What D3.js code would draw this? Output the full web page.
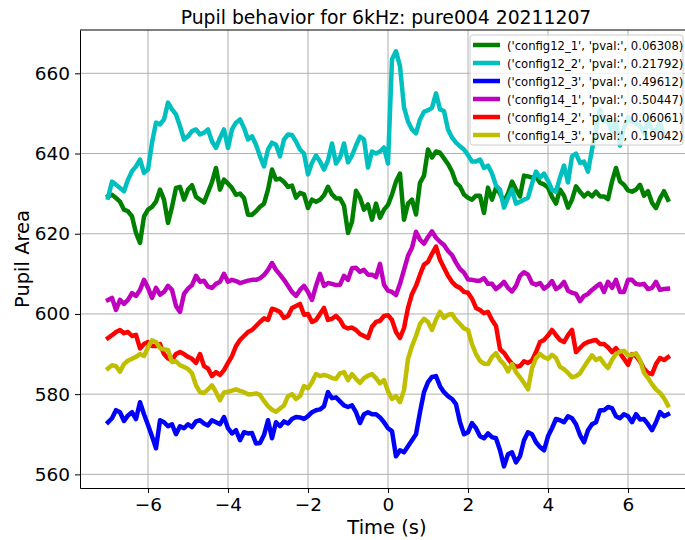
<!DOCTYPE html>
<html>
<head>
<meta charset="utf-8">
<script src="https://cdn.jsdelivr.net/npm/d3@7"></script>
<style>
  body { margin: 0; background: #fff; }
  text { font-family: "DejaVu Sans", sans-serif; }
</style>
</head>
<body>
<div class="container"></div>
<script>
// time axis, one sample every 0.1 s from -7 to 7
var time = d3.range(-70, 71).map(d => d / 10);

// series values
var config12_1 = [629.3, 629.7, 628.9, 628, 626, 625.6, 624.3, 620.2, 617.7, 624.3, 626, 626.7, 628, 631, 628.5, 622.7, 626.7, 631.4, 631.7, 628.5, 631, 632.1, 629.2, 628.5, 627.8, 630.3, 632.9, 636.4, 631, 633.5, 632.5, 631.4, 629.7, 630, 628.9, 624.75, 624.75, 625.6, 626.7, 627.5, 631, 636, 633.5, 633.75, 632.9, 631.7,
  632, 629, 630.2, 629.8, 626.4, 628.5, 628, 628.5, 629.6, 631.7, 629.8, 628.8, 628.8, 627, 620.2, 623, 630.7, 629, 626, 627.3, 623.5, 627.5, 624, 626, 627.2, 629.8, 633, 635, 623.5, 627.5, 628.5, 624.8, 632.7, 634.5, 641, 639, 640.5, 640.2, 638.8, 637.4, 635.5, 632.7, 631.8, 629.8, 629, 628.5, 629.5, 629.5, 625.2,
  631.5, 628.5, 631.5, 630, 628, 630, 633, 631, 629.3, 634.5, 634.3, 634, 634.2, 632.7, 632.3, 631.5, 629.2, 627.5, 631, 629.5, 626.5, 628.5, 631.8, 630.5, 629.3, 630.2, 629.3, 630.5, 629.3, 629.3, 628.6, 633, 636.4, 633, 632.2, 630.8, 630.5, 631, 632.2, 629.5, 630.6, 627.7, 626.4, 628.8, 630.6, 628.5];
var config12_2 = [629, 633, 632.25, 631.4, 630.6, 633.5, 635.6, 636.8, 638.5, 635.2, 636, 642.7, 647.7, 647.25, 648.5, 652.7, 651, 649.75, 646.8, 643.5, 644.3, 645.6, 646, 644.75, 645.2, 646, 643, 641.4, 643.9, 646, 641.4, 646, 647.7, 648.5, 646.4, 643.5, 644.3, 642.2, 639.3, 636.8, 641, 642.7, 642.2, 639.3, 643.5, 644.75,
  644.6, 643, 641, 640, 634.8, 637.7, 639.5, 638, 636, 638.3, 642.5, 637.5, 639, 642.5, 637.8, 639.5, 642, 644.2, 643.5, 636.5, 640.5, 640, 640.5, 641.5, 637.5, 663.5, 665.5, 661.8, 651.5, 648, 646, 645, 648.5, 650.4, 650.8, 651.4, 655, 651, 650.6, 646, 644, 642.7, 641.8, 641, 639.6, 638, 638, 638.5, 636.4,
  637, 635, 632, 631, 626.5, 629, 631, 627.5, 628, 628.5, 629, 632.5, 635.5, 634, 635, 633.2, 631, 630.5, 634, 637, 632.8, 639.3, 640, 637.7, 638, 635.5, 641, 646, 651, 648, 648.5, 645, 648.5, 642, 646.5, 649, 648, 647.5, 647, 645, 648, 646, 645.5, 648, 644, 644];
var config12_3 = [573, 574, 576, 575.5, 573.3, 574.7, 575.5, 573.8, 578, 575, 572.3, 569.5, 566.5, 573.5, 573, 572, 572.5, 570, 572, 571.5, 572.5, 571.8, 573.2, 573.5, 572.7, 572.2, 573.5, 573, 572.5, 574.3, 571.5, 570.2, 571, 568.5, 570.5, 570.2, 570.3, 567.7, 567.8, 569.8, 573.5, 569, 573, 572, 573.2, 572.7, 573.8,
  574.3, 574.2, 573.8, 574.5, 575.5, 576, 576.2, 577, 580.5, 579, 579.2, 578.2, 577.2, 576.8, 577.2, 575.5, 572.8, 575, 575.5, 575, 575, 574.2, 573, 571.5, 570.8, 564.5, 566, 565.5, 567, 568.5, 570, 575.5, 580.5, 583, 584.3, 584.5, 582, 580.5, 579.5, 578.8, 577.5, 573, 570, 570.5, 572.8, 571.5, 569.5, 569,
  570.2, 569.3, 569, 566, 562, 565, 565.5, 563, 564.5, 568.5, 570.5, 570, 568, 566.8, 566, 569.5, 571.5, 573.8, 573.5, 573, 574.5, 574, 572.5, 569.8, 568, 571, 572.5, 573, 576, 576, 576.8, 576.5, 574.5, 574, 575, 574.5, 573, 575, 573.7, 573.8, 572.5, 571, 573, 575.5, 574.5, 575];
var config14_1 = [603.5, 604, 601, 603.5, 602.5, 603.5, 605.2, 604.5, 606, 608.5, 606.5, 604, 606.5, 604.8, 605.5, 607, 606, 602, 600.5, 605, 606.3, 607.2, 609.5, 608, 608.3, 606.8, 606.5, 607.5, 608, 610, 608, 608.5, 608.2, 607.7, 608, 608.3, 608.5, 608.5, 608.9, 609.7, 611, 612.7, 611, 609.8, 608.5, 607, 605.5,
  604.5, 606, 607, 605.5, 603.5, 607, 610, 607, 607.7, 607.5, 607.2, 607.3, 609.5, 608.5, 611.4, 611.5, 610.5, 611, 609.8, 609.8, 609.2, 612.5, 607.3, 605.8, 605.5, 604.7, 607.5, 611, 614.5, 616.5, 620.5, 618.5, 617.5, 619.2, 620.6, 619, 618, 617.2, 615.7, 614.7, 612.8, 611.2, 610.3, 608.6, 608.5, 608.3, 608.3, 608.9,
  607.5, 607.5, 606.2, 607, 608, 606.5, 605.6, 607, 609.5, 610.4, 609.8, 607.7, 607.3, 607.7, 606.3, 607, 608.2, 606.2, 606.8, 608, 605.8, 605.3, 605, 603.2, 604.5, 605, 606, 606.8, 607.5, 605.5, 608, 606.5, 608.5, 605.5, 605.5, 608.5, 608.5, 607.5, 607.3, 607.5, 606.2, 606.5, 608, 606, 606.2, 606.3];
var config14_2 = [594, 594.7, 595.5, 596, 595.2, 595.5, 594.5, 594.8, 591.4, 592.5, 593, 592, 592, 592.5, 590, 588.9, 588.5, 590, 590.5, 590, 589.3, 588.8, 587.8, 590, 587, 586.4, 584.5, 585.5, 584.8, 586, 587.8, 589.5, 592, 593.5, 594.5, 595.5, 596, 597, 598, 598.9, 598.5, 601.3, 601, 600.5, 599, 599.5, 601.5,
  602, 602.5, 599.8, 600, 598, 598.5, 600, 601.5, 598.5, 598.8, 599.5, 598.5, 596.8, 596.4, 596.6, 596, 595, 594.5, 594, 596.8, 598, 598.3, 599.5, 599.7, 598.5, 595.5, 594, 596.5, 601.5, 605, 607, 609.8, 612.3, 613, 615, 616.8, 613.5, 611.5, 609.5, 608, 607, 606.5, 605.5, 605.3, 603.8, 601.5, 601, 600.2,
  600.5, 598.5, 597, 591.2, 590.3, 588.8, 587.6, 586.8, 587, 588.2, 587.8, 588.4, 590.5, 593, 593.5, 594.6, 596, 594.7, 593.5, 593, 594.7, 596, 590.5, 591.5, 592.5, 593, 593.3, 593.5, 592.5, 592.5, 591.7, 590.5, 591.5, 590.2, 588.8, 587.3, 590, 589.5, 588.2, 586.3, 585.3, 585, 587.5, 589, 588.5, 589.2];
var config14_3 = [586.4, 587.2, 587, 585.6, 587.5, 588.4, 588.8, 589.3, 590, 589.5, 591.7, 593.4, 593, 591.5, 591.2, 591, 588, 588.2, 587.2, 586.8, 586.3, 585.2, 582.2, 580.5, 580.3, 581.2, 582.2, 580.5, 578.5, 580.4, 580.6, 580.9, 581.2, 580.8, 580.5, 580, 580, 580.2, 579.8, 578.3, 577, 576.1, 575.6, 576.4, 577.2, 579.5, 580,
  578.8, 579.5, 582, 581.5, 583, 585, 584.5, 584.8, 584.5, 584, 583.8, 585.2, 585.5, 583.5, 585, 583.8, 582.8, 584, 584.6, 585, 584, 582.7, 583.5, 580.7, 578.8, 579.5, 578, 581, 588.8, 592, 594.5, 597.5, 598.8, 598, 596, 598.6, 600.5, 599, 599.8, 600, 598.5, 597.5, 596.4, 596, 592.5, 590, 588.3, 587.6,
  587.5, 589.3, 590.2, 588.5, 587.5, 585.7, 587.5, 585.5, 584.2, 582.8, 581.2, 586.5, 589, 590, 589.2, 588.8, 589.8, 589, 586.8, 586.2, 585.3, 584.2, 584.5, 585.2, 586.8, 588.3, 589.7, 588.5, 589, 587.6, 586.5, 588.5, 590, 590.6, 590.8, 589.7, 589.8, 590.2, 588.5, 585.3, 584, 582.5, 581.2, 580.3, 579, 577.2];

var seriesNames = ["config12_1", "config12_2", "config12_3", "config14_1", "config14_2", "config14_3"];
var pvals = ["0.06308", "0.21792", "0.49612", "0.50447", "0.06061", "0.19042"];
var seriesValues = [config12_1, config12_2, config12_3, config14_1, config14_2, config14_3];
var colors = ["#008000", "#00bfbf", "#0000ff", "#bf00bf", "#ff0000", "#bfbf00"];
var xTicks = [-6, -4, -2, 0, 2, 4, 6];
var yTicks = [560, 580, 600, 620, 640, 660];

//svg area
var svgWidth = 685;
var svgHeight = 540;

var margin = { top: 30, left: 80 };
var chartWidth = 616;
var chartHeight = 458;

var svg = d3.select('.container').append('svg')
    .attr('width', svgWidth)
    .attr('height', svgHeight);

var chartGroup = svg.append('g').attr('transform', `translate(${margin.left},${margin.top})`);

// scales
var xScale = d3.scaleLinear().domain([-7.7, 7.7]).range([0, chartWidth]);
var yScale = d3.scaleLinear().domain([556.6, 670.8]).range([chartHeight, 0]);

// grid lines
chartGroup.append('g').selectAll('line')
    .data(xTicks).enter().append('line')
    .attr('x1', d => xScale(d)).attr('x2', d => xScale(d))
    .attr('y1', 0).attr('y2', chartHeight)
    .attr('stroke', '#b0b0b0').attr('stroke-width', 1);
chartGroup.append('g').selectAll('line')
    .data(yTicks).enter().append('line')
    .attr('x1', 0).attr('x2', chartWidth)
    .attr('y1', d => yScale(d)).attr('y2', d => yScale(d))
    .attr('stroke', '#b0b0b0').attr('stroke-width', 1);

// lines
var line = d3.line()
    .x((d, i) => xScale(time[i]))
    .y(d => yScale(d));

chartGroup.append('g').selectAll('path')
    .data(seriesValues).enter().append('path')
    .attr('d', d => line(d))
    .attr('fill', 'none')
    .attr('stroke', (d, i) => colors[i])
    .attr('stroke-width', 4.5)
    .attr('stroke-linejoin', 'round')
    .attr('stroke-linecap', 'square');

// axes
var fmt = d => d < 0 ? "\u2212" + Math.abs(d) : d;
var bottomAxis = d3.axisBottom(xScale).tickValues(xTicks).tickFormat(fmt)
    .tickSizeInner(5).tickSizeOuter(0).tickPadding(5);
var leftAxis = d3.axisLeft(yScale).tickValues(yTicks)
    .tickSizeInner(5).tickSizeOuter(0).tickPadding(5);

var xAxis = chartGroup.append('g')
    .attr('transform', `translate(0,${chartHeight})`)
    .call(bottomAxis);
var yAxis = chartGroup.append('g').call(leftAxis);

[xAxis, yAxis].forEach(ax => {
    ax.attr('font-size', 18.5).attr('font-family', '"DejaVu Sans", sans-serif');
    ax.select('.domain').attr('stroke', '#000').attr('stroke-width', 1);
    ax.selectAll('.tick line').attr('stroke', '#000');
    ax.selectAll('.tick text')
        .attr('fill', '#000')
        .attr('font-size', 18.5);
});

// top spine
chartGroup.append('line')
    .attr('x1', 0).attr('x2', chartWidth).attr('y1', 0).attr('y2', 0)
    .attr('stroke', '#000').attr('stroke-width', 1);

// labels
svg.append('text')
    .attr('x', 386).attr('y', 24)
    .attr('text-anchor', 'middle')
    .attr('font-size', 18.8)
    .text('Pupil behavior for 6kHz: pure004 20211207');

svg.append('text')
    .attr('x', 387).attr('y', 534)
    .attr('text-anchor', 'middle')
    .attr('font-size', 19.5)
    .text('Time (s)');

svg.append('text')
    .attr('transform', `translate(29,${margin.top + chartHeight / 2}) rotate(-90)`)
    .attr('text-anchor', 'middle')
    .attr('font-size', 19.5)
    .text('Pupil Area');

// legend
var legend = svg.append('g').attr('transform', 'translate(470,35)');
legend.append('rect')
    .attr('width', 213).attr('height', 110)
    .attr('rx', 3)
    .attr('fill', '#fff').attr('fill-opacity', 0.8)
    .attr('stroke', '#cccccc').attr('stroke-width', 1);

var items = legend.selectAll('g')
    .data(seriesNames).enter().append('g')
    .attr('transform', (d, i) => `translate(0,${10 + i * 18})`);
items.append('line')
    .attr('x1', 3).attr('x2', 30)
    .attr('stroke', (d, i) => colors[i])
    .attr('stroke-width', 4.5);
items.append('text')
    .attr('x', 37).attr('y', 4.5)
    .attr('font-size', 11.6)
    .text((d, i) => `('${d}', 'pval:', ${pvals[i]})`);
</script>
</body>
</html>
